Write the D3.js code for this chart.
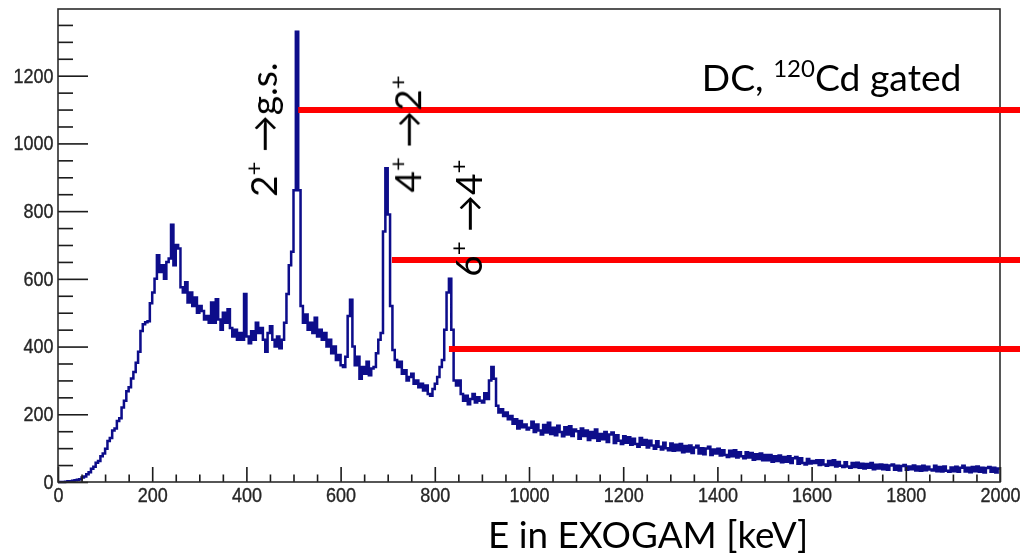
<!DOCTYPE html>
<html>
<head>
<meta charset="utf-8">
<script src="https://cdn.jsdelivr.net/npm/d3@7"></script>
<style>
  html, body { margin: 0; padding: 0; background: #fff; }
  svg { display: block; }
  .tick text { font-family: "Liberation Sans", Arial, sans-serif; font-size: 20px; fill: #262626; stroke: #262626; stroke-width: 0.35px; }
  .note { font-family: Lato, "Open Sans", sans-serif; fill: #000; }
</style>
</head>
<body>
<svg id="chart" width="1020" height="558"></svg>
<script>
// Gamma spectrum, 5 keV bins starting at 0 keV (counts per bin)
const binWidth = 5;
const energyRange = [0, 2000];
const countRange = [0, 1397];
const counts = [
  // 0 - 95 keV
  0, 0, 0, 1, 2, 2, 4, 5, 7, 8, 13, 16, 23, 29, 39, 45, 57, 62, 76, 84,
  // 100 - 195
  98, 121, 130, 152, 158, 180, 188, 220, 240, 268, 280, 306, 325, 352, 385, 446, 466, 472, 475, 528,
  // 200 - 295
  560, 600, 670, 620, 640, 600, 650, 660, 760, 640, 700, 690, 575, 560, 590, 530, 560, 520, 545, 500,
  // 300 - 395
  520, 505, 480, 490, 470, 530, 470, 540, 480, 450, 500, 470, 510, 455, 430, 450, 420, 440, 420, 555,
  // 400 - 495
  430, 410, 445, 420, 470, 440, 455, 420, 385, 440, 460, 420, 400, 430, 395, 420, 470, 555, 640, 680,
  // 500 - 595
  862, 1330, 862, 520, 470, 495, 450, 470, 440, 485, 430, 450, 420, 440, 400, 420, 380, 400, 360, 375,
  // 600 - 695
  345, 340, 370, 490, 538, 400, 345, 370, 305, 340, 320, 355, 315, 335, 340, 380, 420, 440, 740, 927,
  // 700 - 795
  790, 520, 390, 360, 340, 355, 320, 330, 300, 310, 320, 290, 300, 280, 290, 270, 285, 260, 255, 275,
  // 800 - 895
  290, 310, 340, 360, 450, 560, 600, 450, 300, 285, 300, 260, 240, 255, 230, 245, 260, 235, 250, 240,
  // 900 - 995
  235, 262, 245, 300, 340, 305, 225, 205, 215, 195, 205, 185, 195, 172, 185, 158, 180, 162, 170, 155,
  // 1000 - 1095
  160, 178, 148, 170, 152, 140, 168, 146, 175, 142, 160, 138, 166, 148, 135, 162, 140, 165, 136, 155,
  // 1100 - 1195
  150, 128, 158, 136, 152, 124, 148, 130, 155, 122, 142, 126, 148, 118, 140, 146, 115, 138, 122, 112,
  // 1200 - 1295
  135, 116, 132, 110, 128, 112, 104, 130, 110, 124, 102, 122, 108, 98, 120, 104, 96, 116, 100, 94,
  // 1300 - 1395
  114, 92, 110, 94, 112, 88, 106, 90, 108, 86, 102, 107, 84, 100, 82, 99, 104, 80, 96, 84,
  // 1400 - 1495
  98, 78, 94, 80, 74, 92, 76, 94, 72, 88, 76, 70, 88, 72, 86, 66, 82, 68, 84, 64,
  // 1500 - 1595
  80, 64, 80, 60, 76, 62, 78, 58, 74, 60, 76, 56, 70, 74, 54, 70, 56, 52, 68, 55,
  // 1600 - 1695
  62, 56, 64, 50, 64, 52, 48, 62, 50, 64, 46, 59, 48, 44, 58, 46, 42, 56, 44, 57,
  // 1700 - 1795
  42, 54, 40, 53, 42, 56, 38, 51, 40, 52, 38, 50, 36, 49, 52, 36, 48, 34, 47, 50,
  // 1800 - 1895
  36, 46, 38, 49, 34, 46, 33, 48, 35, 45, 37, 34, 48, 32, 44, 31, 46, 33, 30, 43,
  // 1900 - 1995
  32, 45, 30, 42, 48, 31, 42, 29, 44, 32, 46, 30, 42, 28, 41, 44, 30, 42, 28, 40
];

// Axis ticks
const xMajorTicks = [0, 200, 400, 600, 800, 1000, 1200, 1400, 1600, 1800, 2000];
const yMajorTicks = [0, 200, 400, 600, 800, 1000, 1200];
const minorStep = 50;

// Transition markers: red gate line from the peak (energy, count level),
// and the rotated transition label anchored at (energy, count level)
const gateEnergies = [510, 709, 830];
const gateLevels = [1099, 656, 393];
const transitionLabels = [
  { lower: "2", upper: "g.s.", upperSup: false },
  { lower: "4", upper: "2", upperSup: true },
  { lower: "6", upper: "4", upperSup: true }
];
const labelEnergies = [465, 771, 900];
const labelLevels = [842, 855, 606];

const titleText = "E in EXOGAM [keV]";
const gateText = ["DC, ", "120", "Cd gated"];
const gateTextAt = [1367, 1156];

const W = 1020, H = 558;
const margin = { left: 58, right: 20, top: 9, bottom: 76 };

const svg = d3.select("#chart");
const x = d3.scaleLinear().domain(energyRange).range([margin.left, W - margin.right]);
const y = d3.scaleLinear().domain(countRange).range([H - margin.bottom, margin.top]);

const defs = svg.append("defs");
defs.append("filter").attr("id", "soft")
  .append("feGaussianBlur").attr("stdDeviation", 0.45);

const plot = svg.append("g").attr("filter", "url(#soft)");

// histogram as a step line
const pts = counts.map((c, i) => [energyRange[0] + i * binWidth, c]);
pts.push([energyRange[0] + counts.length * binWidth, counts[counts.length - 1]]);
const step = d3.line().x(d => x(d[0])).y(d => y(d[1])).curve(d3.curveStepAfter);
plot.append("path")
  .attr("d", step(pts))
  .attr("fill", "none")
  .attr("stroke", "#0a0a8a")
  .attr("stroke-width", 2.5)
  .attr("stroke-linejoin", "miter");

// minor ticks
const xMinor = d3.range(energyRange[0], energyRange[1] + 1, minorStep).filter(v => !xMajorTicks.includes(v));
const yMinor = d3.range(0, countRange[1], minorStep).filter(v => !yMajorTicks.includes(v));

function styleAxis(g) {
  g.select(".domain").remove();
  g.selectAll(".tick line").attr("stroke", "#1a1a1a").attr("stroke-width", 1.6);
  g.selectAll(".tick text").attr("transform", "scale(0.9,1)");
}

plot.append("g")
  .attr("transform", `translate(0,${y(0)})`)
  .call(d3.axisBottom(x).tickValues(xMinor).tickSize(-7.5).tickFormat(""))
  .call(styleAxis);
plot.append("g")
  .attr("transform", `translate(0,${y(0)})`)
  .call(d3.axisBottom(x).tickValues(xMajorTicks).tickSize(-15).tickPadding(6).tickFormat(d3.format("d")))
  .call(styleAxis);

plot.append("g")
  .attr("transform", `translate(${x(0)},0)`)
  .call(d3.axisLeft(y).tickValues(yMinor).tickSize(-15).tickFormat(""))
  .call(styleAxis);
plot.append("g")
  .attr("transform", `translate(${x(0)},0)`)
  .call(d3.axisLeft(y).tickValues(yMajorTicks).tickSize(-30).tickPadding(5).tickFormat(d3.format("d")))
  .call(styleAxis);

// frame
plot.append("rect")
  .attr("x", x(energyRange[0])).attr("y", y(countRange[1]))
  .attr("width", x(energyRange[1]) - x(energyRange[0]))
  .attr("height", y(0) - y(countRange[1]))
  .attr("fill", "none").attr("stroke", "#2a2a2a").attr("stroke-width", 1.6);

// red gate lines run out to the page edge
svg.append("g").selectAll("line")
  .data(gateEnergies)
  .join("line")
  .attr("x1", d => x(d))
  .attr("x2", W)
  .attr("y1", (d, i) => y(gateLevels[i]))
  .attr("y2", (d, i) => y(gateLevels[i]))
  .attr("stroke", "#ff0000")
  .attr("stroke-width", 6);

// rotated transition labels
const lab = svg.append("g").selectAll("text")
  .data(transitionLabels)
  .join("text")
  .attr("class", "note")
  .attr("font-size", 37)
  .attr("transform", (d, i) => `translate(${x(labelEnergies[i])},${y(labelLevels[i])}) rotate(-90)`);
lab.each(function(d) {
  const t = d3.select(this);
  t.append("tspan").text(d.lower);
  t.append("tspan").attr("font-size", 24).attr("dy", -15).text("+");
  t.append("tspan").attr("dy", 15).text(" \u2192" + d.upper);
  if (d.upperSup) t.append("tspan").attr("font-size", 24).attr("dy", -15).text("+");
});

// gate description
const gt = svg.append("text")
  .attr("class", "note")
  .attr("font-size", 37.3)
  .attr("x", x(gateTextAt[0]))
  .attr("y", y(gateTextAt[1]));
gt.append("tspan").text(gateText[0]);
gt.append("tspan").attr("font-size", 24).attr("dy", -14).text(gateText[1]);
gt.append("tspan").attr("dy", 14).text(gateText[2]);

// x-axis title
svg.append("text")
  .attr("class", "note")
  .attr("font-size", 36.8)
  .attr("x", x(1000) - 41)
  .attr("y", 548)
  .text(titleText);
</script>
</body>
</html>
